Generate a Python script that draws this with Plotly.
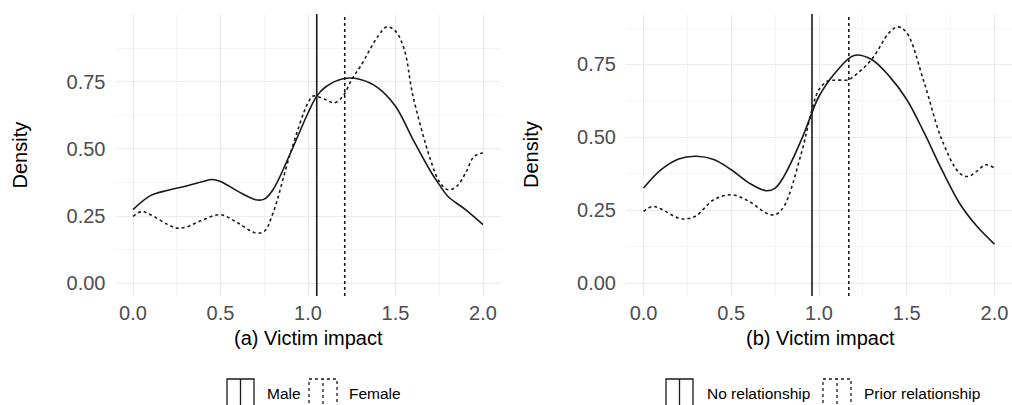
import plotly.graph_objects as go

# ---------------- data ----------------
x_a_male = [0, 0.1, 0.2, 0.3, 0.4, 0.45, 0.5, 0.6, 0.7, 0.75, 0.8, 0.9, 1.0, 1.05, 1.1, 1.2, 1.3, 1.4, 1.5, 1.6, 1.7, 1.75, 1.8, 1.9, 2.0]
y_a_male = [0.274, 0.326, 0.346, 0.361, 0.379, 0.386, 0.379, 0.342, 0.311, 0.313, 0.348, 0.485, 0.634, 0.697, 0.731, 0.762, 0.759, 0.728, 0.659, 0.535, 0.417, 0.367, 0.323, 0.274, 0.218]

x_a_female = [0, 0.05, 0.1, 0.2, 0.25, 0.3, 0.4, 0.5, 0.6, 0.7, 0.75, 0.8, 0.9, 1.0, 1.03, 1.1, 1.15, 1.2, 1.25, 1.3, 1.4, 1.45, 1.5, 1.55, 1.6, 1.7, 1.75, 1.8, 1.85, 1.9, 1.95, 2.0]
y_a_female = [0.249, 0.267, 0.255, 0.218, 0.205, 0.208, 0.236, 0.255, 0.224, 0.187, 0.193, 0.261, 0.485, 0.672, 0.697, 0.684, 0.672, 0.697, 0.759, 0.808, 0.920, 0.955, 0.939, 0.871, 0.697, 0.460, 0.379, 0.348, 0.361, 0.410, 0.473, 0.485]

x_b_norel = [0, 0.1, 0.2, 0.3, 0.4, 0.5, 0.6, 0.7, 0.75, 0.8, 0.9, 0.96, 1.0, 1.1, 1.2, 1.3, 1.4, 1.5, 1.6, 1.7, 1.8, 1.9, 2.0]
y_b_norel = [0.326, 0.389, 0.426, 0.435, 0.424, 0.389, 0.344, 0.317, 0.326, 0.366, 0.492, 0.584, 0.641, 0.727, 0.781, 0.767, 0.710, 0.630, 0.515, 0.389, 0.275, 0.195, 0.134]

x_b_prior = [0, 0.05, 0.1, 0.2, 0.25, 0.3, 0.4, 0.5, 0.6, 0.7, 0.75, 0.8, 0.9, 0.96, 1.0, 1.05, 1.1, 1.17, 1.2, 1.3, 1.4, 1.45, 1.5, 1.6, 1.7, 1.8, 1.85, 1.9, 1.95, 2.0]
y_b_prior = [0.246, 0.263, 0.254, 0.223, 0.221, 0.231, 0.286, 0.303, 0.281, 0.240, 0.235, 0.263, 0.447, 0.595, 0.664, 0.693, 0.696, 0.698, 0.710, 0.767, 0.859, 0.879, 0.859, 0.687, 0.492, 0.378, 0.366, 0.384, 0.406, 0.395]

means_a = {"Male": 1.05, "Female": 1.21}
means_b = {"No relationship": 0.96, "Prior relationship": 1.17}

x_ticks = [0.0, 0.5, 1.0, 1.5, 2.0]
x_ticklabels = ["0.0", "0.5", "1.0", "1.5", "2.0"]
y_ticks = [0.0, 0.25, 0.5, 0.75]
y_ticklabels = ["0.00", "0.25", "0.50", "0.75"]
x_titles = ["(a) Victim impact", "(b) Victim impact"]
y_title = "Density"

# ---------------- figure ----------------
LINE = "#1a1a1a"
DASH = "3px,3px"
FONT = "Liberation Sans, Arial, sans-serif"
fig = go.Figure()

fig.add_trace(go.Scatter(x=x_a_male, y=y_a_male, mode="lines", line=dict(color=LINE, width=1.6, shape="spline"), xaxis="x", yaxis="y", showlegend=False))
fig.add_trace(go.Scatter(x=x_a_female, y=y_a_female, mode="lines", line=dict(color=LINE, width=1.6, dash=DASH, shape="spline"), xaxis="x", yaxis="y", showlegend=False))
fig.add_trace(go.Scatter(x=x_b_norel, y=y_b_norel, mode="lines", line=dict(color=LINE, width=1.6, shape="spline"), xaxis="x2", yaxis="y2", showlegend=False))
fig.add_trace(go.Scatter(x=x_b_prior, y=y_b_prior, mode="lines", line=dict(color=LINE, width=1.6, dash=DASH, shape="spline"), xaxis="x2", yaxis="y2", showlegend=False))

# vertical mean lines
for (name, v), d in zip(means_a.items(), ["solid", DASH]):
    fig.add_shape(type="line", xref="x", yref="y domain", x0=v, x1=v, y0=0, y1=1, line=dict(color=LINE, width=1.6, dash=d))
for (name, v), d in zip(means_b.items(), ["solid", DASH]):
    fig.add_shape(type="line", xref="x2", yref="y2 domain", x0=v, x1=v, y0=0, y1=1, line=dict(color=LINE, width=1.6, dash=d))

W, H = 1012, 405
ydom = [1 - 296 / H, 1 - 14 / H]
axis_common = dict(showline=False, zeroline=False, showgrid=True, gridcolor="#ebebeb", gridwidth=1,
                   ticks="", tickfont=dict(family=FONT, size=20, color="#4d4d4d"))
xax = dict(axis_common, range=[-0.1, 2.1], tickvals=x_ticks, ticktext=x_ticklabels,
           minor=dict(tickvals=[0.25, 0.75, 1.25, 1.75], showgrid=True, gridcolor="#f4f4f4", gridwidth=1),
           ticklabelstandoff=3)
yax_minor = dict(tickvals=[0.125, 0.375, 0.625, 0.875], showgrid=True, gridcolor="#f4f4f4", gridwidth=1)

fig.update_layout(
    width=W, height=H, margin=dict(l=0, r=0, t=0, b=0),
    paper_bgcolor="white", plot_bgcolor="white",
    font=dict(family=FONT, color="black"),
    xaxis=dict(xax, domain=[115.5 / W, 500.5 / W], anchor="y"),
    yaxis=dict(axis_common, domain=ydom, range=[-0.048, 1.003], tickvals=y_ticks, ticktext=y_ticklabels,
               minor=yax_minor, anchor="x", ticklabelstandoff=9),
    xaxis2=dict(xax, domain=[626 / W, 1.0], anchor="y2"),
    yaxis2=dict(axis_common, domain=ydom, range=[-0.044, 0.923], tickvals=y_ticks, ticktext=y_ticklabels,
                minor=yax_minor, anchor="x2", ticklabelstandoff=9),
)

# axis titles
ann = []
for txt, xc in zip(x_titles, [308.5, 820]):
    ann.append(dict(text=txt, x=xc / W, y=1 - 338 / H, xref="paper", yref="paper", showarrow=False,
                    font=dict(family=FONT, size=20, color="black"), xanchor="center", yanchor="middle"))
for xc in [19.5, 531]:
    ann.append(dict(text=y_title, x=xc / W, y=1 - 155 / H, xref="paper", yref="paper", showarrow=False,
                    textangle=-90, font=dict(family=FONT, size=20, color="black"), xanchor="center", yanchor="middle"))

# legends (keys drawn as box + centre line)
legend_items = [
    ("Male", 227, 254, "solid", 265),
    ("Female", 309, 337, DASH, 347),
    ("No relationship", 666, 693, "solid", 705),
    ("Prior relationship", 823, 851, DASH, 862),
]
for label, k0, k1, d, tx in legend_items:
    fig.add_shape(type="rect", xref="paper", yref="paper", x0=k0 / W, x1=k1 / W, y0=1 - 410 / H, y1=1 - 379 / H,
                  line=dict(color=LINE, width=1.3, dash=d))
    xm = (k0 + k1) / 2
    fig.add_shape(type="line", xref="paper", yref="paper", x0=xm / W, x1=xm / W, y0=1 - 410 / H, y1=1 - 379 / H,
                  line=dict(color=LINE, width=1.3, dash=d))
    ann.append(dict(text=label, x=tx / W, y=1 - 393 / H, xref="paper", yref="paper", showarrow=False,
                    font=dict(family=FONT, size=15.5, color="black"), xanchor="left", yanchor="middle"))

fig.update_layout(annotations=ann)
fig.write_html("out.html")
